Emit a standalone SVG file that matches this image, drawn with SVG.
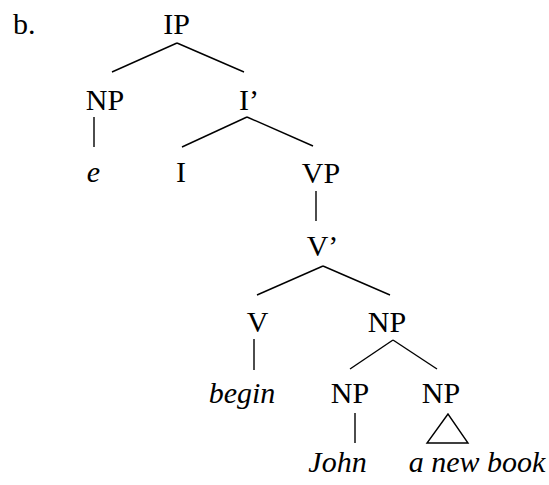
<svg xmlns="http://www.w3.org/2000/svg" width="549" height="485" viewBox="0 0 549 485">
  <style>
    .lbl { font-family: "Liberation Serif", "Times New Roman", serif; font-size: 30px; fill: #000; text-anchor: middle; }
    .it { font-style: italic; }
    .edge { stroke: #000; stroke-width: 1.4; fill: none; }
  </style>
  <rect width="549" height="485" fill="#fff"/>
  <text class="lbl" x="13" y="34" style="text-anchor:start">b.</text>

  <g id="connectors">
    <line class="edge" x1="177" y1="43" x2="112" y2="72"/>
    <line class="edge" x1="177" y1="43" x2="244" y2="72"/>
    <line class="edge" x1="94" y1="117" x2="94" y2="147"/>
    <line class="edge" x1="247" y1="117" x2="182" y2="147"/>
    <line class="edge" x1="247" y1="117" x2="313" y2="146"/>
    <line class="edge" x1="316" y1="191" x2="316" y2="221"/>
    <line class="edge" x1="323" y1="266" x2="257" y2="295"/>
    <line class="edge" x1="323" y1="266" x2="390" y2="295"/>
    <line class="edge" x1="254" y1="339" x2="254" y2="370"/>
    <line class="edge" x1="393" y1="340" x2="350" y2="369"/>
    <line class="edge" x1="393" y1="340" x2="437" y2="369"/>
    <line class="edge" x1="355" y1="413" x2="355" y2="443"/>
    <polygon class="edge" points="448,414 427,443 468,443"/>
  </g>

  <g id="ip"><text class="lbl" x="176.5" y="34">IP</text></g>
  <g id="np-subj"><text class="lbl" x="105" y="110">NP</text></g>
  <g id="i-bar"><text class="lbl" x="249" y="110">I’</text></g>
  <g id="e"><text class="lbl it" x="93.5" y="182">e</text></g>
  <g id="i"><text class="lbl" x="181" y="182">I</text></g>
  <g id="vp"><text class="lbl" x="321" y="183">VP</text></g>
  <g id="v-bar"><text class="lbl" x="322.5" y="256">V’</text></g>
  <g id="v"><text class="lbl" x="257.5" y="332">V</text></g>
  <g id="np-obj"><text class="lbl" x="387" y="332">NP</text></g>
  <g id="begin"><text class="lbl it" x="242" y="403">begin</text></g>
  <g id="np-john"><text class="lbl" x="350" y="403">NP</text></g>
  <g id="np-book"><text class="lbl" x="441" y="403">NP</text></g>
  <g id="john"><text class="lbl it" x="337.5" y="472">John</text></g>
  <g id="a-new-book"><text class="lbl it" x="477" y="472">a new book</text></g>
</svg>
